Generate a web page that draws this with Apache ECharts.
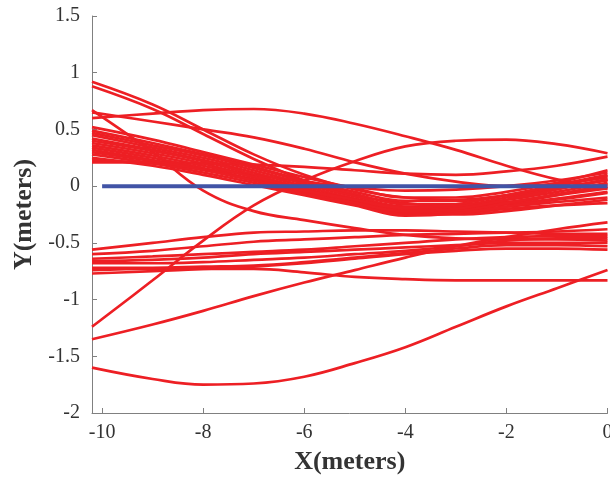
<!DOCTYPE html>
<html>
<head>
<meta charset="utf-8">
<script src="https://cdn.jsdelivr.net/npm/echarts@6/dist/echarts.min.js"></script>
<style>html,body{margin:0;padding:0;background:#fff}#c{width:610px;height:479px}</style>
</head>
<body>
<div id="c"></div>
<script>
// sample x positions (meters)
var xs = [-10.2, -9, -8, -7, -6, -5, -4, -3, -2, -1, 0];
var xTicks = [-10, -8, -6, -4, -2, 0];
var refX = [-10, 0];
var refY = [0, 0];

// red trajectories (Y values at xs)
var u1 = [0.92, 0.72, 0.5, 0.28, 0.1, -0.03, -0.1, -0.12, -0.08, -0.02, 0.06];
var u2 = [0.88, 0.68, 0.46, 0.24, 0.05, -0.08, -0.15, -0.18, -0.15, -0.08, 0.02];
var arcA = [0.6, 0.64, 0.67, 0.68, 0.64, 0.55, 0.44, 0.32, 0.18, 0.06, -0.02];
var lineB = [0.65, 0.57, 0.5, 0.43, 0.33, 0.21, 0.11, 0.04, 0.0, 0.02, 0.08];
var d1 = [0.67, 0.3, -0.04, -0.22, -0.3, -0.37, -0.43, -0.46, -0.47, -0.47, -0.48];
var r1 = [-1.24, -0.83, -0.48, -0.17, 0.05, 0.22, 0.35, 0.4, 0.41, 0.37, 0.29];
var c1 = [0.21, 0.21, 0.2, 0.19, 0.17, 0.14, 0.11, 0.1, 0.13, 0.18, 0.26];
var c2 = [0.23, 0.2, 0.15, 0.1, 0.04, -0.01, -0.04, -0.03, 0.0, 0.05, 0.12];
var b1 = [0.52, 0.41, 0.3, 0.19, 0.08, -0.02, -0.1, -0.1, -0.05, 0.03, 0.14];
var b2 = [0.49, 0.38, 0.28, 0.17, 0.05, -0.05, -0.13, -0.13, -0.08, 0.0, 0.09];
var b3 = [0.47, 0.36, 0.27, 0.16, 0.04, -0.07, -0.16, -0.16, -0.12, -0.05, 0.03];
var b4 = [0.45, 0.34, 0.25, 0.14, 0.02, -0.09, -0.18, -0.18, -0.14, -0.08, -0.02];
var b5 = [0.42, 0.32, 0.23, 0.12, 0.0, -0.11, -0.2, -0.2, -0.16, -0.11, -0.05];
var b6 = [0.4, 0.31, 0.22, 0.1, -0.02, -0.13, -0.22, -0.22, -0.18, -0.14, -0.1];
var b7 = [0.38, 0.29, 0.2, 0.08, -0.04, -0.15, -0.24, -0.24, -0.2, -0.17, -0.15];
var b8 = [0.36, 0.27, 0.18, 0.08, -0.03, -0.12, -0.2, -0.18, -0.1, -0.02, 0.05];
var b9 = [0.34, 0.25, 0.16, 0.06, -0.05, -0.15, -0.23, -0.22, -0.15, -0.07, 0.0];
var b10 = [0.32, 0.23, 0.15, 0.05, -0.06, -0.16, -0.25, -0.25, -0.22, -0.17, -0.12];
var b11 = [0.3, 0.22, 0.14, 0.05, -0.04, -0.12, -0.19, -0.16, -0.08, 0.01, 0.1];
var b12 = [0.28, 0.2, 0.12, 0.03, -0.07, -0.15, -0.22, -0.2, -0.12, -0.03, 0.06];
var b13 = [0.25, 0.18, 0.1, 0.01, -0.08, -0.17, -0.26, -0.24, -0.18, -0.12, -0.06];
var l1 = [-0.56, -0.5, -0.45, -0.41, -0.4, -0.39, -0.39, -0.4, -0.41, -0.42, -0.42];
var l2 = [-0.6, -0.57, -0.53, -0.49, -0.47, -0.45, -0.43, -0.42, -0.41, -0.4, -0.38];
var l3 = [-0.64, -0.62, -0.6, -0.58, -0.56, -0.53, -0.5, -0.47, -0.45, -0.44, -0.44];
var l4 = [-0.66, -0.65, -0.63, -0.6, -0.58, -0.56, -0.54, -0.52, -0.5, -0.5, -0.5];
var l5 = [-0.68, -0.68, -0.67, -0.65, -0.63, -0.6, -0.57, -0.53, -0.48, -0.46, -0.46];
var l6 = [-0.72, -0.72, -0.71, -0.7, -0.67, -0.63, -0.59, -0.55, -0.52, -0.52, -0.53];
var l7 = [-0.74, -0.73, -0.73, -0.73, -0.76, -0.8, -0.82, -0.83, -0.83, -0.83, -0.83];
var l8 = [-0.77, -0.75, -0.73, -0.71, -0.68, -0.64, -0.6, -0.57, -0.55, -0.55, -0.56];
var m1 = [-1.35, -1.22, -1.1, -0.97, -0.85, -0.74, -0.63, -0.53, -0.45, -0.38, -0.32];
var lowest = [-1.6, -1.7, -1.75, -1.74, -1.68, -1.56, -1.42, -1.24, -1.06, -0.9, -0.74];

var redCurves = [u1, u2, arcA, lineB, d1, r1, c1, c2, b1, b2, b3, b4, b5, b6, b7, b8, b9, b10, b11, b12, b13,
  l1, l2, l3, l4, l5, l6, l7, l8, m1, lowest];

var font = "'Liberation Serif', 'Times New Roman', serif";

function pairs(xv, yv) { return xv.map(function (x, i) { return [x, yv[i]]; }); }

var series = redCurves.map(function (ys) {
  return {
    type: 'line', data: pairs(xs, ys), smooth: 0.4, showSymbol: false, silent: true,
    lineStyle: { color: '#ed1f24', width: 2.7 }
  };
});
series.push({
  type: 'line', data: pairs(refX, refY), showSymbol: false, silent: true,
  lineStyle: { color: '#4154a6', width: 4 }, z: 5
});

var chart = echarts.init(document.getElementById('c'), null, { renderer: 'canvas' });
chart.setOption({
  animation: false,
  backgroundColor: '#fff',
  grid: { left: 92, right: 2.5, top: 16, bottom: 66, containLabel: false, outerBoundsMode: 'none' },
  xAxis: {
    type: 'value', min: -10.2, max: 0,
    name: 'X(meters)', nameLocation: 'middle', nameGap: 36,
    nameTextStyle: { fontFamily: font, fontWeight: 'bold', fontSize: 26, color: '#333' },
    axisLine: { onZero: false, lineStyle: { color: '#808080', width: 1 } },
    axisTick: { inside: true, length: 5, customValues: xTicks, lineStyle: { color: '#808080' } },
    axisLabel: { customValues: xTicks, fontFamily: font, fontSize: 20, color: '#333', margin: 10 },
    splitLine: { show: false }
  },
  yAxis: {
    type: 'value', min: -2, max: 1.5, interval: 0.5,
    name: 'Y(meters)', nameLocation: 'middle', nameGap: 52,
    nameTextStyle: { fontFamily: font, fontWeight: 'bold', fontSize: 26, color: '#333' },
    axisLine: { show: true, onZero: false, lineStyle: { color: '#808080', width: 1 } },
    axisTick: { show: true, inside: true, length: 5, lineStyle: { color: '#808080' } },
    axisLabel: { fontFamily: font, fontSize: 20, color: '#333', margin: 12 },
    splitLine: { show: false }
  },
  series: series
});
</script>
</body>
</html>
